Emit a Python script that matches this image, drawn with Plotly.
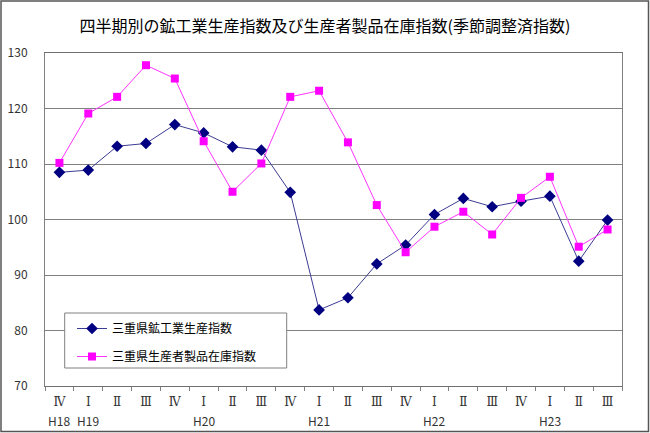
import plotly.graph_objects as go

quarters = ["Ⅳ", "Ⅰ", "Ⅱ", "Ⅲ", "Ⅳ", "Ⅰ", "Ⅱ", "Ⅲ", "Ⅳ", "Ⅰ",
            "Ⅱ", "Ⅲ", "Ⅳ", "Ⅰ", "Ⅱ", "Ⅲ", "Ⅳ", "Ⅰ", "Ⅱ", "Ⅲ"]
years = ["H18", "H19", "", "", "", "H20", "", "", "", "H21",
         "", "", "", "H22", "", "", "", "H23", "", ""]
categories = ["H18Q4", "H19Q1", "H19Q2", "H19Q3", "H19Q4", "H20Q1", "H20Q2", "H20Q3", "H20Q4", "H21Q1",
              "H21Q2", "H21Q3", "H21Q4", "H22Q1", "H22Q2", "H22Q3", "H22Q4", "H23Q1", "H23Q2", "H23Q3"]

production = [108.5, 108.9, 113.2, 113.7, 117.1, 115.6, 113.1, 112.5, 104.9, 83.7,
              85.9, 92.0, 95.4, 100.9, 103.8, 102.3, 103.3, 104.2, 92.5, 99.9]
inventory = [110.2, 119.1, 122.1, 127.8, 125.4, 114.1, 105.0, 110.1, 122.1, 123.2,
             113.9, 102.6, 94.1, 98.7, 101.4, 97.3, 103.9, 107.7, 95.1, 98.2]

name_prod = "三重県鉱工業生産指数"
name_inv = "三重県生産者製品在庫指数"

fig = go.Figure()
fig.add_trace(go.Scatter(
    x=categories, y=production, name=name_prod, mode="lines+markers",
    legendgroup="a",
    line=dict(color="#3c3c94", width=1),
    marker=dict(symbol="diamond", size=9, color="#000080"),
))
fig.add_trace(go.Scatter(
    x=categories, y=inventory, name=name_inv, mode="lines+markers",
    legendgroup="b",
    line=dict(color="#ff33ff", width=1),
    marker=dict(symbol="square", size=8, color="#ff00ff"),
))

L, R, T, B = 45, 28, 53, 47
W, H = 650, 433
pw, ph = W - L - R, H - T - B

def px_x(p):
    return (p - L) / pw

def px_y(p):
    return (H - B - p) / ph

year_annotations = [
    dict(x=c, y=px_y(420), xref="x", yref="paper", text=yr, showarrow=False,
         xanchor="center", yanchor="middle",
         font=dict(family="Noto Sans CJK JP", size=12, color="#333333"))
    for c, yr in zip(categories, years) if yr
]

fig.update_layout(
    width=W, height=H,
    margin=dict(l=L, r=R, t=T, b=B, autoexpand=False),
    paper_bgcolor="white", plot_bgcolor="white",
    font=dict(family="Noto Sans CJK JP", size=12, color="#333333"),
    title=dict(
        text="四半期別の鉱工業生産指数及び生産者製品在庫指数(季節調整済指数)",
        x=0.5, xanchor="center", xref="container", y=1 - 26 / H, yanchor="middle",
        font=dict(family="Noto Sans CJK JP", size=16, color="#000000"),
    ),
    showlegend=True,
    legend=dict(
        x=px_x(72), y=px_y(314), xanchor="left", yanchor="top",
        bgcolor="rgba(0,0,0,0)", borderwidth=0,
        traceorder="grouped", tracegroupgap=9,
        font=dict(family="Noto Sans CJK JP", size=12, color="#000000"),
    ),
    xaxis=dict(
        type="category", categoryorder="array", categoryarray=categories,
        range=[-0.5, len(categories) - 0.5],
        tickmode="array", tickvals=categories, ticktext=quarters,
        tickangle=0, automargin=False,
        tickson="boundaries", ticks="outside", ticklen=4, tickcolor="#808080",
        ticklabelstandoff=5,
        showline=True, linecolor="#707070", linewidth=1, mirror=True,
        showgrid=False, zeroline=False,
        tickfont=dict(family="DejaVu Serif, Noto Sans CJK JP", size=12, color="#333333"),
    ),
    yaxis=dict(
        range=[70, 130], dtick=10, tick0=70, automargin=False,
        showgrid=True, gridcolor="#808080", gridwidth=1,
        showline=True, linecolor="#808080", linewidth=1, mirror=True,
        zeroline=False, ticks="", ticklabelstandoff=14,
        tickfont=dict(family="Noto Sans CJK JP", size=12, color="#333333"),
    ),
    annotations=year_annotations,
    shapes=[
        dict(type="rect", xref="paper", yref="paper",
             x0=px_x(64.7), x1=px_x(286.7), y0=px_y(368), y1=px_y(313),
             fillcolor="white", line=dict(color="#808080", width=1), layer="above"),
        dict(type="rect", xref="paper", yref="paper",
             x0=px_x(1), x1=px_x(648.5), y0=px_y(431.5), y1=px_y(1),
             fillcolor="rgba(0,0,0,0)", line=dict(color="#555555", width=1.5), layer="above"),
    ],
)

fig.write_html(
    "out.html",
    config={"displayModeBar": False},
    post_script="document.body.style.margin='0';document.body.style.overflow='hidden';",
)
